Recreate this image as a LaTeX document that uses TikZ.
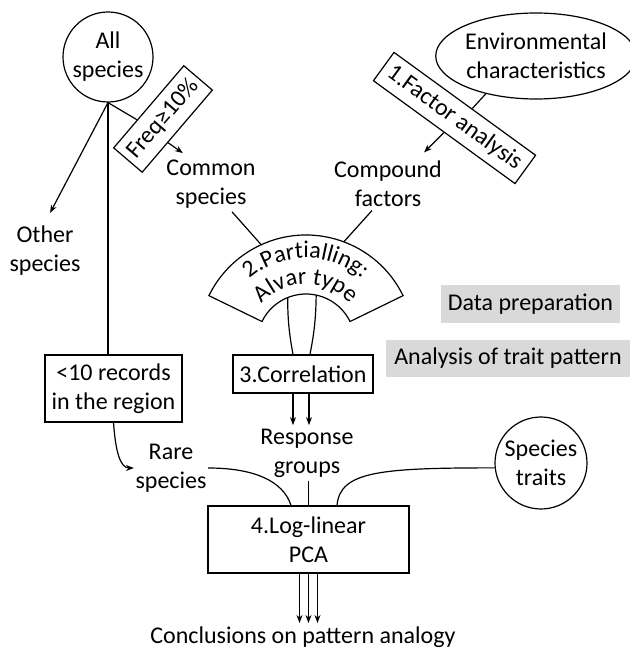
\documentclass[tikz,border=0pt]{standalone}
\usepackage{fontspec}
\setmainfont{Carlito}
\usetikzlibrary{shapes.geometric,decorations.text,calc,arrows.meta}
\newcommand\dfont{\fontsize{24}{29}\selectfont}
\begin{document}
\begin{tikzpicture}[x=1pt,y=1pt,line width=1.2pt,
  every node/.style={font=\dfont,align=center},
  box/.style={draw,rectangle,inner sep=0pt},
  txt/.style={inner sep=3pt},
  arr/.style={-{Stealth[length=8pt,width=6pt]}},
  graybox/.style={fill=black!15,inner sep=0pt}]
\useasboundingbox (0,0) rectangle (630,649);
% nodes
\node[draw,circle,minimum size=90,inner sep=0pt] (all) at (108,592) {All\\species};
\node[txt] (other) at (45,398) {Other\\species};
\node[box,rotate=49.5,minimum width=108,minimum height=37.5] (freq) at (163,530) {Freq≥10\%};
\node[txt] (common) at (211,465) {Common\\species};
\node[draw,ellipse,minimum width=188,minimum height=86,inner sep=0pt] (env) at (536,593) {Environmental\\characteristics};
\node[box,rotate=-36,minimum width=175,minimum height=35] (fac) at (454.5,531) {1.Factor analysis};
\node[txt] (comp) at (388,465) {Compound\\factors};
\coordinate (C) at (306,306);
\node[box,minimum width=140,minimum height=38] (corr) at (303,275) {3.Correlation};
\node[box,minimum width=137,minimum height=67] (rec) at (113.5,260.5) {<10 records\\in the region};
\node[txt] (resp) at (307,196) {Response\\groups};
\node[inner sep=1pt] (rare) at (171,181) {Rare\\species};
\node[draw,circle,minimum size=92,inner sep=0pt] (traits) at (541,186) {Species\\traits};
\node[box,minimum width=201,minimum height=67] (pca) at (308.5,109.5) {4.Log-linear\\PCA};
\node[inner sep=3pt] (concl) at (303,12) {Conclusions on pattern analogy};
\node[graybox,minimum width=179,minimum height=38] (dp) at (530.5,345) {Data preparation};
\node[graybox,minimum width=244,minimum height=37] (atp) at (508,290.5) {Analysis of trait pattern};
% partialling shape
\draw ($(C)+(26:108)$) arc[start angle=26,end angle=154,radius=108]
  -- ($(C)+(154:49)$) arc[start angle=154,end angle=26,radius=49] -- cycle;
\path[decorate,decoration={text along path,text align=center,
  text={|\dfont|2.Partialling:}}]
  ($(C)+(165:85)$) arc[start angle=165,end angle=15,radius=85];
\path[decorate,decoration={text along path,text align=center,
  text={|\dfont|Alvar type}}]
  ($(C)+(165:59)$) arc[start angle=165,end angle=15,radius=59];
% connectors
\draw[arr,shorten >=11pt] (all.south) -- (other.north);
\draw (all.south) -- (all.south |- rec.north);
\draw (all.south) -- ($(freq.north)!0.32!(freq.north west)$);
\draw[arr] ($(freq.south)!0.27!(freq.south west)$) -- ++(-35:18);
\draw (env.217) -- ($(fac.north)!0.1!(fac.north east)$);
\draw[arr] (fac.south) -- ++(-135:28);
\draw ([xshift=21]common.south) -- ($(C)+(114.5:108)$);
\draw ([xshift=-16]comp.south) -- ($(C)+(69.5:108)$);
\draw ($(C)+(112:49)$) to[bend right=5] ([xshift=-10]corr.north);
\draw ($(C)+(78:49)$) to[bend left=5] ([xshift=7]corr.north);
\draw[arr] ([xshift=-10]corr.south) -- ([xshift=-10]corr.south |- resp.north);
\draw[arr] ([xshift=6]corr.south) -- ([xshift=6]corr.south |- resp.north);
\draw[arr] (rec.south) .. controls +(2,-28) and +(-14,0) .. (rare.west);
\draw (rare.east) .. controls +(45,0) and +(-8,25) .. ([xshift=-17.5]pca.north);
\draw (pca.north |- resp.south) -- (pca.north);
\draw (traits.186) .. controls +(-115,0) and +(3,34) .. ([xshift=28.5]pca.north);
\foreach \dx in {-9,0,9}
  \draw[arr] ([xshift=\dx]pca.south) -- ([xshift=\dx]pca.south |- concl.north);
\end{tikzpicture}
\end{document}
